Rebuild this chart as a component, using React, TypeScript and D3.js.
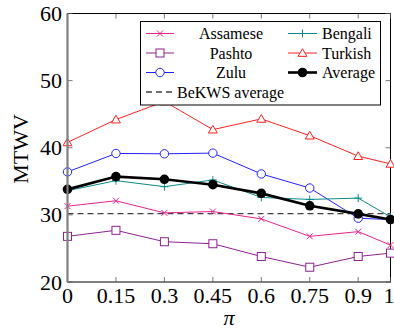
import { useEffect, useRef } from 'react'
import * as d3 from 'd3'

// x values (pi)
const piValues = [0, 0.15, 0.3, 0.45, 0.6, 0.75, 0.9, 1]
const xTickLabels = ['0', '0.15', '0.3', '0.45', '0.6', '0.75', '0.9', '1']
const yTicks = [20, 30, 40, 50, 60]

const assamese = [31.3, 32.1, 30.3, 30.5, 29.4, 26.8, 27.5, 25.5]
const pashto = [26.8, 27.7, 26.0, 25.7, 23.8, 22.2, 23.8, 24.3]
const zulu = [36.4, 39.15, 39.1, 39.2, 36.1, 34.0, 29.5, 29.3]
const bengali = [33.6, 35.1, 34.2, 35.2, 32.6, 32.3, 32.5, 29.7]
const turkish = [40.8, 44.2, 46.9, 42.7, 44.3, 41.8, 38.75, 37.6]
const average = [33.8, 35.7, 35.3, 34.5, 33.2, 31.35, 30.15, 29.3]
const bekwsAverage = 30.2

type Marker = 'x' | 'square' | 'circle' | 'plus' | 'triangle' | 'dot'

const series: { name: string; values: number[]; color: string; marker: Marker }[] = [
  { name: 'Assamese', values: assamese, color: '#e8228e', marker: 'x' },
  { name: 'Pashto', values: pashto, color: '#8e2290', marker: 'square' },
  { name: 'Zulu', values: zulu, color: '#2222ff', marker: 'circle' },
  { name: 'Bengali', values: bengali, color: '#0a8a8a', marker: 'plus' },
  { name: 'Turkish', values: turkish, color: '#ff2020', marker: 'triangle' },
  { name: 'Average', values: average, color: '#000000', marker: 'dot' },
]

const FONT = 'Liberation Serif'

const drawMarker = (g: any, type: Marker, cx: number, cy: number, color: string) => {
  if (type === 'x') {
    const s = 3
    g.append('path')
      .attr('d', `M${cx - s},${cy - s}L${cx + s},${cy + s}M${cx - s},${cy + s}L${cx + s},${cy - s}`)
      .attr('stroke', color).attr('stroke-width', 1).attr('fill', 'none')
  } else if (type === 'plus') {
    const s = 4
    g.append('path')
      .attr('d', `M${cx - s},${cy}L${cx + s},${cy}M${cx},${cy - s}L${cx},${cy + s}`)
      .attr('stroke', color).attr('stroke-width', 1).attr('fill', 'none')
  } else if (type === 'square') {
    const s = 4
    g.append('rect')
      .attr('x', cx - s).attr('y', cy - s).attr('width', 2 * s).attr('height', 2 * s)
      .attr('stroke', color).attr('stroke-width', 1).attr('fill', 'white')
  } else if (type === 'circle') {
    g.append('circle')
      .attr('cx', cx).attr('cy', cy).attr('r', 4.2)
      .attr('stroke', color).attr('stroke-width', 1).attr('fill', 'white')
  } else if (type === 'triangle') {
    g.append('path')
      .attr('d', d3.symbol().type(d3.symbolTriangle).size(34)() as string)
      .attr('transform', `translate(${cx},${cy + 0.8})`)
      .attr('stroke', color).attr('stroke-width', 1).attr('fill', 'white')
  } else {
    g.append('circle')
      .attr('cx', cx).attr('cy', cy).attr('r', 4.8)
      .attr('fill', color)
  }
}

const MtwvChart = () => {
  const chartRef = useRef<SVGSVGElement>(null)

  useEffect(() => {
    if (!chartRef.current) return
    const svg = d3.select(chartRef.current)
    svg.selectAll('*').remove()

    const left = 67.5
    const right = 390.5
    const top = 13.5
    const bottom = 282

    const x = d3.scaleLinear().domain([0, 1]).range([left, right])
    const y = d3.scaleLinear().domain([20, 60]).range([bottom, top])

    // frame
    svg.append('rect')
      .attr('x', left).attr('y', top)
      .attr('width', right - left).attr('height', bottom - top)
      .attr('fill', 'none').attr('stroke', 'black').attr('stroke-width', 1)

    // ticks (inward)
    const tl = 5
    piValues.forEach(v => {
      svg.append('line').attr('x1', x(v)).attr('x2', x(v)).attr('y1', bottom).attr('y2', bottom - tl)
        .attr('stroke', '#555').attr('stroke-width', 0.8)
      svg.append('line').attr('x1', x(v)).attr('x2', x(v)).attr('y1', top).attr('y2', top + tl)
        .attr('stroke', '#555').attr('stroke-width', 0.8)
    })
    yTicks.forEach(v => {
      svg.append('line').attr('x1', left).attr('x2', left + tl).attr('y1', y(v)).attr('y2', y(v))
        .attr('stroke', '#555').attr('stroke-width', 0.8)
      svg.append('line').attr('x1', right).attr('x2', right - tl).attr('y1', y(v)).attr('y2', y(v))
        .attr('stroke', '#555').attr('stroke-width', 0.8)
    })

    // tick labels
    piValues.forEach((v, i) => {
      svg.append('text')
        .attr('x', i === piValues.length - 1 ? x(v) - 1.5 : x(v)).attr('y', 303)
        .attr('text-anchor', 'middle')
        .attr('font-family', FONT).attr('font-size', 22)
        .text(xTickLabels[i])
    })
    yTicks.forEach(v => {
      svg.append('text')
        .attr('x', 62).attr('y', y(v) + 7.5)
        .attr('text-anchor', 'end')
        .attr('font-family', FONT).attr('font-size', 22)
        .text(v)
    })

    // axis titles
    svg.append('text')
      .attr('transform', `translate(28,149) rotate(-90)`)
      .attr('text-anchor', 'middle')
      .attr('font-family', FONT).attr('font-size', 22)
      .text('MTWV')
    svg.append('text')
      .attr('x', 229).attr('y', 325)
      .attr('text-anchor', 'middle')
      .attr('font-family', FONT).attr('font-size', 22).attr('font-style', 'italic')
      .text('π')

    // BeKWS average
    svg.append('line')
      .attr('x1', left).attr('x2', right)
      .attr('y1', y(bekwsAverage)).attr('y2', y(bekwsAverage))
      .attr('stroke', '#404040').attr('stroke-width', 1.3).attr('stroke-dasharray', '6,4')

    // series
    const line = d3.line<number>()
      .x((_, i) => x(piValues[i]))
      .y(d => y(d))

    series.forEach(s => {
      const g = svg.append('g')
      g.append('path')
        .datum(s.values)
        .attr('d', line)
        .attr('fill', 'none')
        .attr('stroke', s.color)
        .attr('stroke-width', s.marker === 'dot' ? 2.6 : 1)
      s.values.forEach((v, i) => drawMarker(g, s.marker, x(piValues[i]), y(v), s.color))
    })

    // left axis line (gray, thicker)
    svg.append('line')
      .attr('x1', left).attr('x2', left).attr('y1', top).attr('y2', bottom)
      .attr('stroke', '#808080').attr('stroke-width', 2.2)

    // legend (column-major, 3 rows)
    const lg = svg.append('g')
    lg.append('rect')
      .attr('x', 140.5).attr('y', 21.5).attr('width', 240).attr('height', 83.5)
      .attr('fill', 'white').attr('stroke', 'black').attr('stroke-width', 1)

    const rowY = [33.5, 53, 72.5, 92]
    series.forEach((s, i) => {
      const col = Math.floor(i / 3)
      const row = i % 3
      const x1 = col === 0 ? 146 : 288
      const x2 = col === 0 ? 174 : 317
      const cy = rowY[row]
      lg.append('line')
        .attr('x1', x1).attr('x2', x2).attr('y1', cy).attr('y2', cy)
        .attr('stroke', s.color).attr('stroke-width', s.marker === 'dot' ? 2.6 : 1)
      drawMarker(lg, s.marker, (x1 + x2) / 2, cy, s.color)
      lg.append('text')
        .attr('x', col === 0 ? 231 : 322)
        .attr('y', cy + 5.5)
        .attr('text-anchor', col === 0 ? 'middle' : 'start')
        .attr('font-family', FONT).attr('font-size', 16)
        .text(s.name)
    })
    lg.append('line')
      .attr('x1', 146).attr('x2', 172).attr('y1', rowY[3]).attr('y2', rowY[3])
      .attr('stroke', '#404040').attr('stroke-width', 1.3).attr('stroke-dasharray', '6,4')
    lg.append('text')
      .attr('x', 177).attr('y', rowY[3] + 5.5)
      .attr('font-family', FONT).attr('font-size', 16)
      .text('BeKWS average')
  }, [])

  return (
    <svg
      ref={chartRef}
      width={394}
      height={330}
      style={{ position: 'absolute', left: 0, top: 0, background: 'white' }}
    />
  )
}

export default function App() {
  return <MtwvChart />
}
